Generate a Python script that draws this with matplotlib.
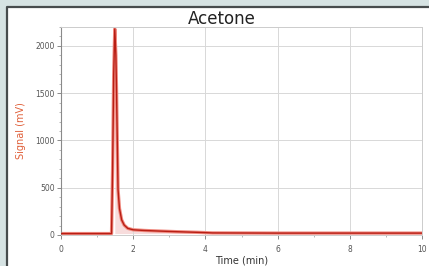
import matplotlib.pyplot as plt
from matplotlib.patches import Rectangle
from matplotlib.lines import Line2D
from matplotlib.ticker import MultipleLocator

# chromatogram trace
time_min = [0, 1.40, 1.43, 1.46, 1.49, 1.52, 1.54, 1.56, 1.58, 1.62, 1.68,
            1.75, 1.85, 2.0, 2.3, 2.7, 3.2, 3.8, 4.2, 6, 8, 10]
signal_mv = [15, 15, 700, 1700, 2180, 1900, 1480, 970, 480, 280, 160,
             105, 70, 55, 48, 42, 35, 28, 22, 20, 20, 20]

x_ticks = [0, 2, 4, 6, 8, 10]
y_ticks = [0, 500, 1000, 1500, 2000]

fig = plt.figure(figsize=(4.29, 2.66), dpi=100, facecolor='#d6e3e3')

# white panel with dark top/left border (right/bottom run off the canvas)
px, py = 7 / 429, 0.974
fig.patches.append(Rectangle((px, 0), 1 - px, py, transform=fig.transFigure,
                             facecolor='white', linewidth=0, zorder=-5))
fig.lines.append(Line2D([px, px, 1], [0, py, py], transform=fig.transFigure,
                        color='#474c4d', linewidth=1.6, zorder=-4))

ax = fig.add_axes([61 / 429, 31 / 266, 361 / 429, 208 / 266])
ax.set_zorder(2)
ax.set_facecolor('none')

# thin pink fill under the tail
tail = [i for i, t in enumerate(time_min) if 1.49 <= t <= 4.2]
ax.fill_between([time_min[i] for i in tail], 15, [signal_mv[i] for i in tail],
                color='#f7dcdc', linewidth=0, zorder=1)
ax.plot(time_min, signal_mv, color='#f08a80', linewidth=2.4, zorder=2,
        solid_joinstyle='round')
ax.plot(time_min, signal_mv, color='#b81e14', linewidth=1.0, zorder=3,
        solid_joinstyle='round')

ax.set_xlim(0, 10)
ax.set_ylim(0, 2200)
ax.set_xticks(x_ticks)
ax.set_yticks(y_ticks)
ax.xaxis.set_minor_locator(MultipleLocator(1))
ax.yaxis.set_minor_locator(MultipleLocator(100))
ax.grid(True, which='major', color='#d8d8d8', linewidth=0.7)

ax.tick_params(axis='both', which='major', labelsize=5.5, colors='#777777',
               labelcolor='#555555', length=3, width=0.6, pad=1.5)
ax.tick_params(axis='x', which='major', pad=4)
ax.tick_params(axis='both', which='minor', colors='#999999', length=1.5,
               width=0.5)

for side in ['top', 'right', 'bottom']:
    ax.spines[side].set_color('#cccccc')
    ax.spines[side].set_linewidth(0.7)
ax.spines['left'].set_color('#8a8a8a')
ax.spines['left'].set_linewidth(0.8)

fig.text(222 / 429, (266 - 19) / 266, 'Acetone', fontsize=12, color='#222222',
         ha='center', va='center')
ax.set_xlabel('Time (min)', fontsize=7, color='#333333', labelpad=1)
ax.set_ylabel('Signal (mV)', fontsize=7, color='#e0603a', labelpad=7)

fig.savefig('out.png', dpi=100, facecolor=fig.get_facecolor())
